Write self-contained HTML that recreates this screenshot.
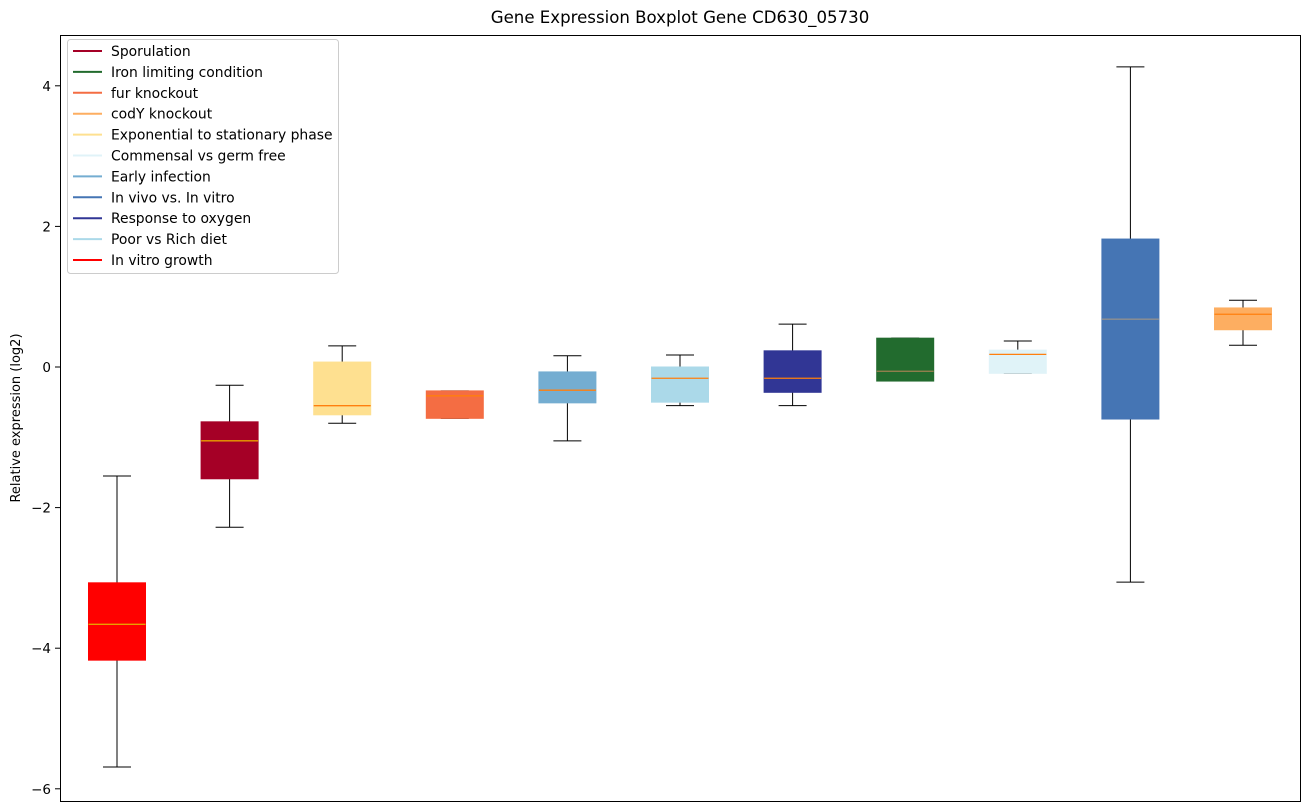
<!DOCTYPE html>
<html><head><meta charset="utf-8"><style>
body{margin:0;background:#fff;}
svg{display:block;font-family:"DejaVu Sans","Liberation Sans",sans-serif;}
</style></head><body>
<svg id="chart" width="1309" height="812">
<text x="680" y="23" text-anchor="middle" font-size="16.6">Gene Expression Boxplot Gene CD630_05730</text>
<text transform="translate(20,418) rotate(-90)" text-anchor="middle" font-size="13">Relative expression (log2)</text>
<g id="boxes"></g>
<rect x="60.5" y="35.5" width="1240" height="766" fill="none" stroke="#000" stroke-width="1"/>
<g id="yaxis"></g>
<g id="legend"></g>
</svg>
<script>
const categories=["In vitro growth","Sporulation","Exponential to stationary phase","fur knockout","Early infection","Poor vs Rich diet","Response to oxygen","Iron limiting condition","Commensal vs germ free","In vivo vs. In vitro","codY knockout"];
const whiskerHigh=[-1.55,-0.26,0.30,-0.34,0.16,0.17,0.61,0.41,0.37,4.27,0.95];
const q3Values=[-3.07,-0.78,0.07,-0.34,-0.07,0.0,0.23,0.41,0.24,1.82,0.84];
const medians=[-3.66,-1.05,-0.55,-0.41,-0.33,-0.16,-0.16,-0.06,0.18,0.68,0.75];
const q1Values=[-4.17,-1.59,-0.68,-0.73,-0.51,-0.50,-0.36,-0.20,-0.09,-0.74,0.53];
const whiskerLow=[-5.69,-2.28,-0.80,-0.73,-1.05,-0.55,-0.55,-0.20,-0.09,-3.06,0.31];
const boxColors=["#ff0000","#a50026","#fee090","#f46d43","#74add1","#abd9e9","#313695","#226b2e","#e0f3f8","#4575b4","#fdae61"];
const medianColors=["#e8a000","#e8a000","#ff7f0e","#ff7f0e","#ff7f0e","#ff7f0e","#ff7f0e","#a08050","#ff7f0e","#909090","#ff7f0e"];
const yTicks=[4,2,0,-2,-4,-6];
const legendLabels=["Sporulation","Iron limiting condition","fur knockout","codY knockout","Exponential to stationary phase","Commensal vs germ free","Early infection","In vivo vs. In vitro","Response to oxygen","Poor vs Rich diet","In vitro growth"];
const legendColors=["#a50026","#226b2e","#f46d43","#fdae61","#fee090","#e0f3f8","#74add1","#4575b4","#313695","#abd9e9","#ff0000"];

const NS="http://www.w3.org/2000/svg";
function y(v){return 367-v*70.3;}
function x(i){return 117+i*112.6;}
function mk(tag,attrs,parent){const e=document.createElementNS(NS,tag);for(const k in attrs)e.setAttribute(k,attrs[k]);parent.appendChild(e);return e;}
const bg=document.getElementById('boxes');
categories.forEach((c,i)=>{
  const g=mk('g',{},bg);
  
  
  const cx=x(i),hw=28.5;
  mk('line',{x1:cx,x2:cx,y1:y(whiskerHigh[i]),y2:y(q3Values[i]),stroke:'#000','stroke-width':1},g);
  mk('line',{x1:cx,x2:cx,y1:y(q1Values[i]),y2:y(whiskerLow[i]),stroke:'#000','stroke-width':1},g);
  mk('line',{x1:cx-14,x2:cx+14,y1:y(whiskerHigh[i]),y2:y(whiskerHigh[i]),stroke:'#000','stroke-width':1},g);
  mk('line',{x1:cx-14,x2:cx+14,y1:y(whiskerLow[i]),y2:y(whiskerLow[i]),stroke:'#000','stroke-width':1},g);
  mk('rect',{x:cx-hw,y:y(q3Values[i]),width:2*hw,height:Math.max(1,y(q1Values[i])-y(q3Values[i])),fill:boxColors[i],stroke:boxColors[i]},g);
  mk('line',{x1:cx-hw,x2:cx+hw,y1:y(medians[i]),y2:y(medians[i]),stroke:medianColors[i],'stroke-width':1.3},g);
});
const ya=document.getElementById('yaxis');
yTicks.forEach(t=>{
  const g=mk('g',{},ya);
  
  
  mk('line',{x1:55,x2:60,y1:y(t),y2:y(t),stroke:'#000'},g);
  const tx=mk('text',{x:51,y:y(t)+5,'text-anchor':'end','font-size':13.5},g);
  tx.textContent=(t<0?'\u2212':'')+Math.abs(t);
});
const lg=document.getElementById('legend');
const lr=mk('rect',{x:67.5,y:39.5,width:271,height:234,rx:3,fill:'#fff','fill-opacity':0.8,stroke:'#ccc'},lg);


legendLabels.forEach((l,i)=>{
  const g=mk('g',{},lg);
  
  
  const ly=51+i*20.9;
  mk('line',{x1:73,x2:102,y1:ly,y2:ly,stroke:legendColors[i],'stroke-width':2},g);
  const t=mk('text',{x:111,y:ly+5,'font-size':13.9},g);
  t.textContent=l;
});
</script>
</body></html>
